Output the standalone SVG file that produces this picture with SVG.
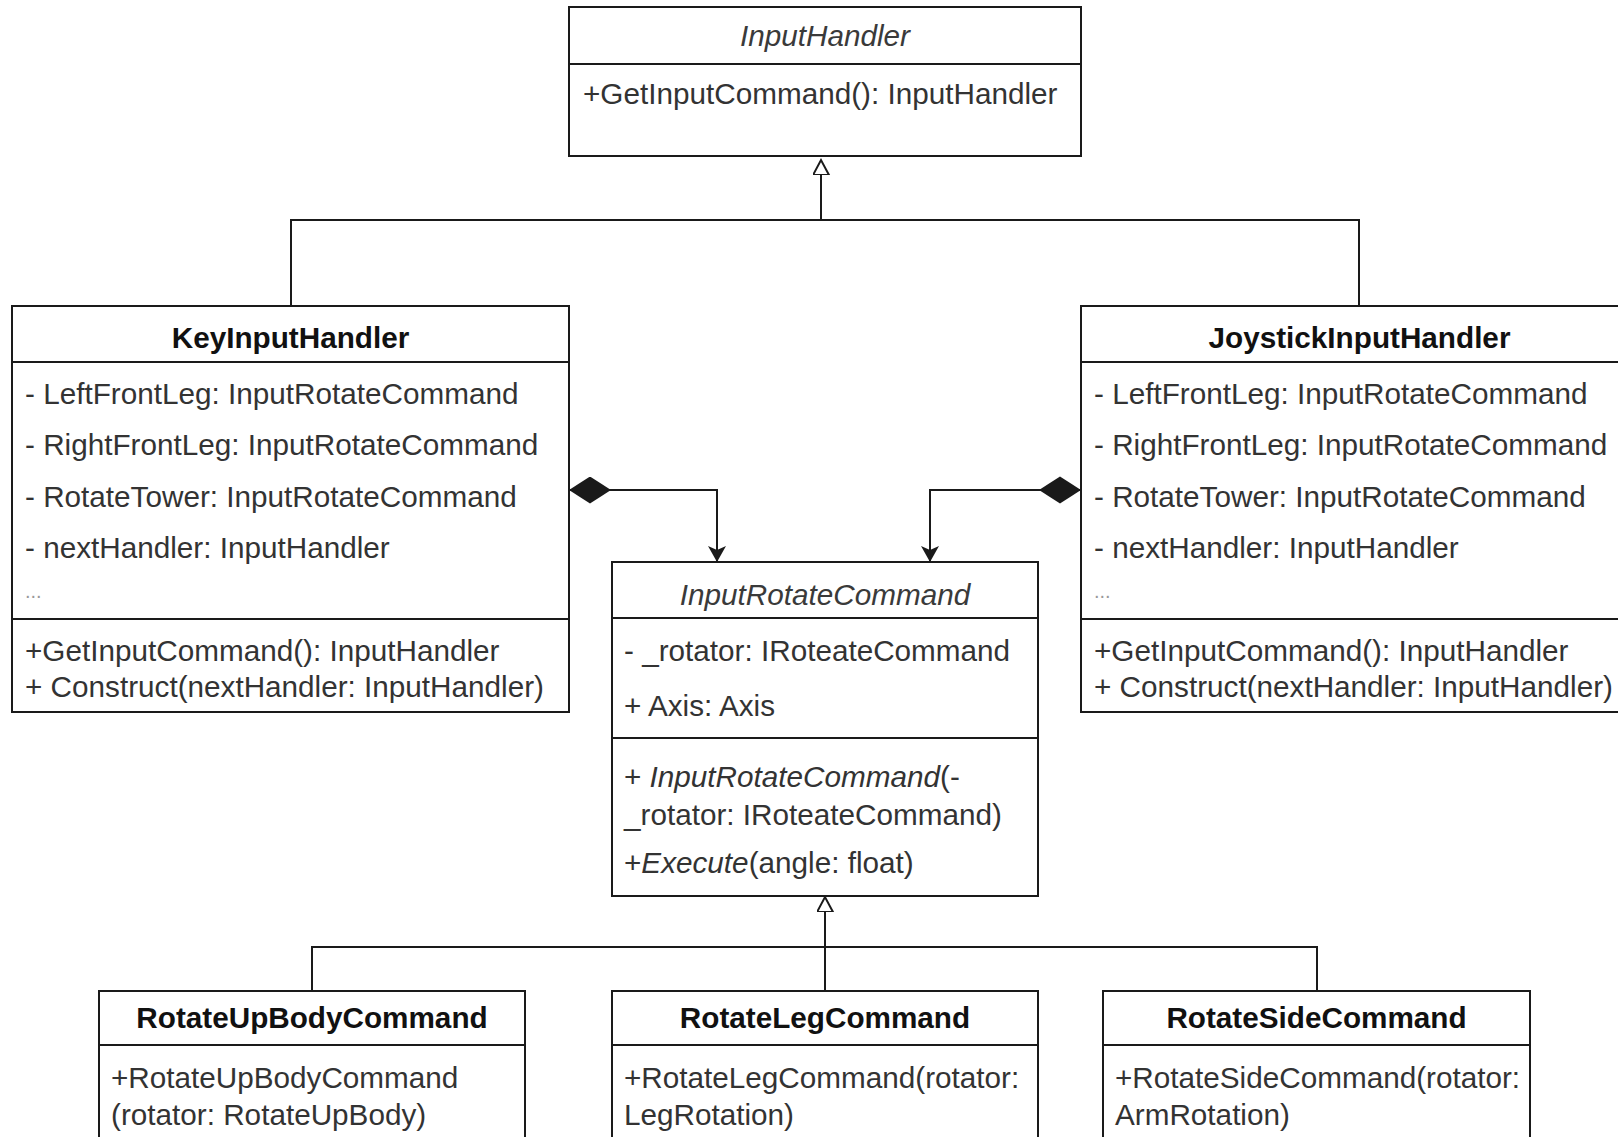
<svg xmlns="http://www.w3.org/2000/svg" width="1618" height="1137" viewBox="0 0 1618 1137">
<style>
.box{fill:#fff;stroke:#1a1a1a;stroke-width:2}
.div{stroke:#1a1a1a;stroke-width:2;fill:none}
.t{font-family:"Liberation Sans",Arial,sans-serif;font-size:29.7px;fill:#333}
.b{font-weight:bold;fill:#111;text-anchor:middle}
.i{font-style:italic;text-anchor:middle;fill:#3a3a3a}
.dots{fill:#999}
.ln{fill:none;stroke:#1a1a1a;stroke-width:2}
</style>
<defs>
<marker id="tri" markerWidth="20" markerHeight="20" refX="15" refY="8" orient="auto" markerUnits="userSpaceOnUse">
<path d="M0,0 L15,8 L0,16 Z" fill="#fff" stroke="#1a1a1a" stroke-width="2"/>
</marker>
<marker id="arr" markerWidth="20" markerHeight="20" refX="16" refY="9" orient="auto" markerUnits="userSpaceOnUse">
<path d="M0,0 L16,9 L0,18 L4,9 Z" fill="#1a1a1a"/>
</marker>
<marker id="dia" markerWidth="48" markerHeight="30" refX="1" refY="13.5" orient="auto" markerUnits="userSpaceOnUse">
<path d="M1,13.5 L22,0 L43,13.5 L22,27 Z" fill="#1a1a1a"/>
</marker>
</defs>
<rect width="1618" height="1137" fill="#fff"/>

<g id="connectors">
<path class="ln" d="M291,306 V220 H1359 V306"/>
<path class="ln" d="M821,220 V160" marker-end="url(#tri)"/>
<path class="ln" d="M312,991 V947 H1317 V991"/>
<path class="ln" d="M825,991 V897" marker-end="url(#tri)"/>
<path class="ln" d="M569,490 H717 V562" marker-start="url(#dia)" marker-end="url(#arr)"/>
<path class="ln" d="M1081,490 H930 V562" marker-start="url(#dia)" marker-end="url(#arr)"/>
</g>

<g id="InputHandler">
<rect class="box" x="569" y="7" width="512" height="149"/>
<line class="div" x1="569" y1="64" x2="1081" y2="64"/>
<text class="t i" x="825" y="46">InputHandler</text>
<text class="t" x="583" y="104">+GetInputCommand(): InputHandler</text>
</g>

<g id="KeyInputHandler">
<rect class="box" x="12" y="306" width="557" height="406"/>
<line class="div" x1="12" y1="362" x2="569" y2="362"/>
<line class="div" x1="12" y1="619" x2="569" y2="619"/>
<text class="t b" x="290.5" y="348">KeyInputHandler</text>
<text class="t" x="25" y="404">- LeftFrontLeg: InputRotateCommand</text>
<text class="t" x="25" y="455">- RightFrontLeg: InputRotateCommand</text>
<text class="t" x="25" y="507">- RotateTower: InputRotateCommand</text>
<text class="t" x="25" y="558">- nextHandler: InputHandler</text>
<text class="t dots" x="25" y="598" style="font-size:20px">...</text>
<text class="t" x="25" y="661">+GetInputCommand(): InputHandler</text>
<text class="t" x="25" y="697">+ Construct(nextHandler: InputHandler)</text>
</g>

<g id="JoystickInputHandler">
<rect class="box" x="1081" y="306" width="557" height="406"/>
<line class="div" x1="1081" y1="362" x2="1638" y2="362"/>
<line class="div" x1="1081" y1="619" x2="1638" y2="619"/>
<text class="t b" x="1359.5" y="348">JoystickInputHandler</text>
<text class="t" x="1094" y="404">- LeftFrontLeg: InputRotateCommand</text>
<text class="t" x="1094" y="455">- RightFrontLeg: InputRotateCommand</text>
<text class="t" x="1094" y="507">- RotateTower: InputRotateCommand</text>
<text class="t" x="1094" y="558">- nextHandler: InputHandler</text>
<text class="t dots" x="1094" y="598" style="font-size:20px">...</text>
<text class="t" x="1094" y="661">+GetInputCommand(): InputHandler</text>
<text class="t" x="1094" y="697">+ Construct(nextHandler: InputHandler)</text>
</g>

<g id="InputRotateCommand">
<rect class="box" x="612" y="562" width="426" height="334"/>
<line class="div" x1="612" y1="618" x2="1038" y2="618"/>
<line class="div" x1="612" y1="738" x2="1038" y2="738"/>
<text class="t i" x="825" y="605">InputRotateCommand</text>
<text class="t" x="624" y="661">- _rotator: IRoteateCommand</text>
<text class="t" x="624" y="716">+ Axis: Axis</text>
<text class="t" x="624" y="787">+ <tspan font-style="italic">InputRotateCommand</tspan>(-</text>
<text class="t" x="624" y="825">_rotator: IRoteateCommand)</text>
<text class="t" x="624" y="873">+<tspan font-style="italic">Execute</tspan>(angle: float)</text>
</g>

<g id="RotateUpBodyCommand">
<rect class="box" x="99" y="991" width="426" height="200"/>
<line class="div" x1="99" y1="1045" x2="525" y2="1045"/>
<text class="t b" x="312" y="1028">RotateUpBodyCommand</text>
<text class="t" x="111" y="1088">+RotateUpBodyCommand</text>
<text class="t" x="111" y="1125">(rotator: RotateUpBody)</text>
</g>

<g id="RotateLegCommand">
<rect class="box" x="612" y="991" width="426" height="200"/>
<line class="div" x1="612" y1="1045" x2="1038" y2="1045"/>
<text class="t b" x="825" y="1028">RotateLegCommand</text>
<text class="t" x="624" y="1088">+RotateLegCommand(rotator:</text>
<text class="t" x="624" y="1125">LegRotation)</text>
</g>

<g id="RotateSideCommand">
<rect class="box" x="1103" y="991" width="427" height="200"/>
<line class="div" x1="1103" y1="1045" x2="1530" y2="1045"/>
<text class="t b" x="1316.5" y="1028">RotateSideCommand</text>
<text class="t" x="1115" y="1088">+RotateSideCommand(rotator:</text>
<text class="t" x="1115" y="1125">ArmRotation)</text>
</g>
</svg>
